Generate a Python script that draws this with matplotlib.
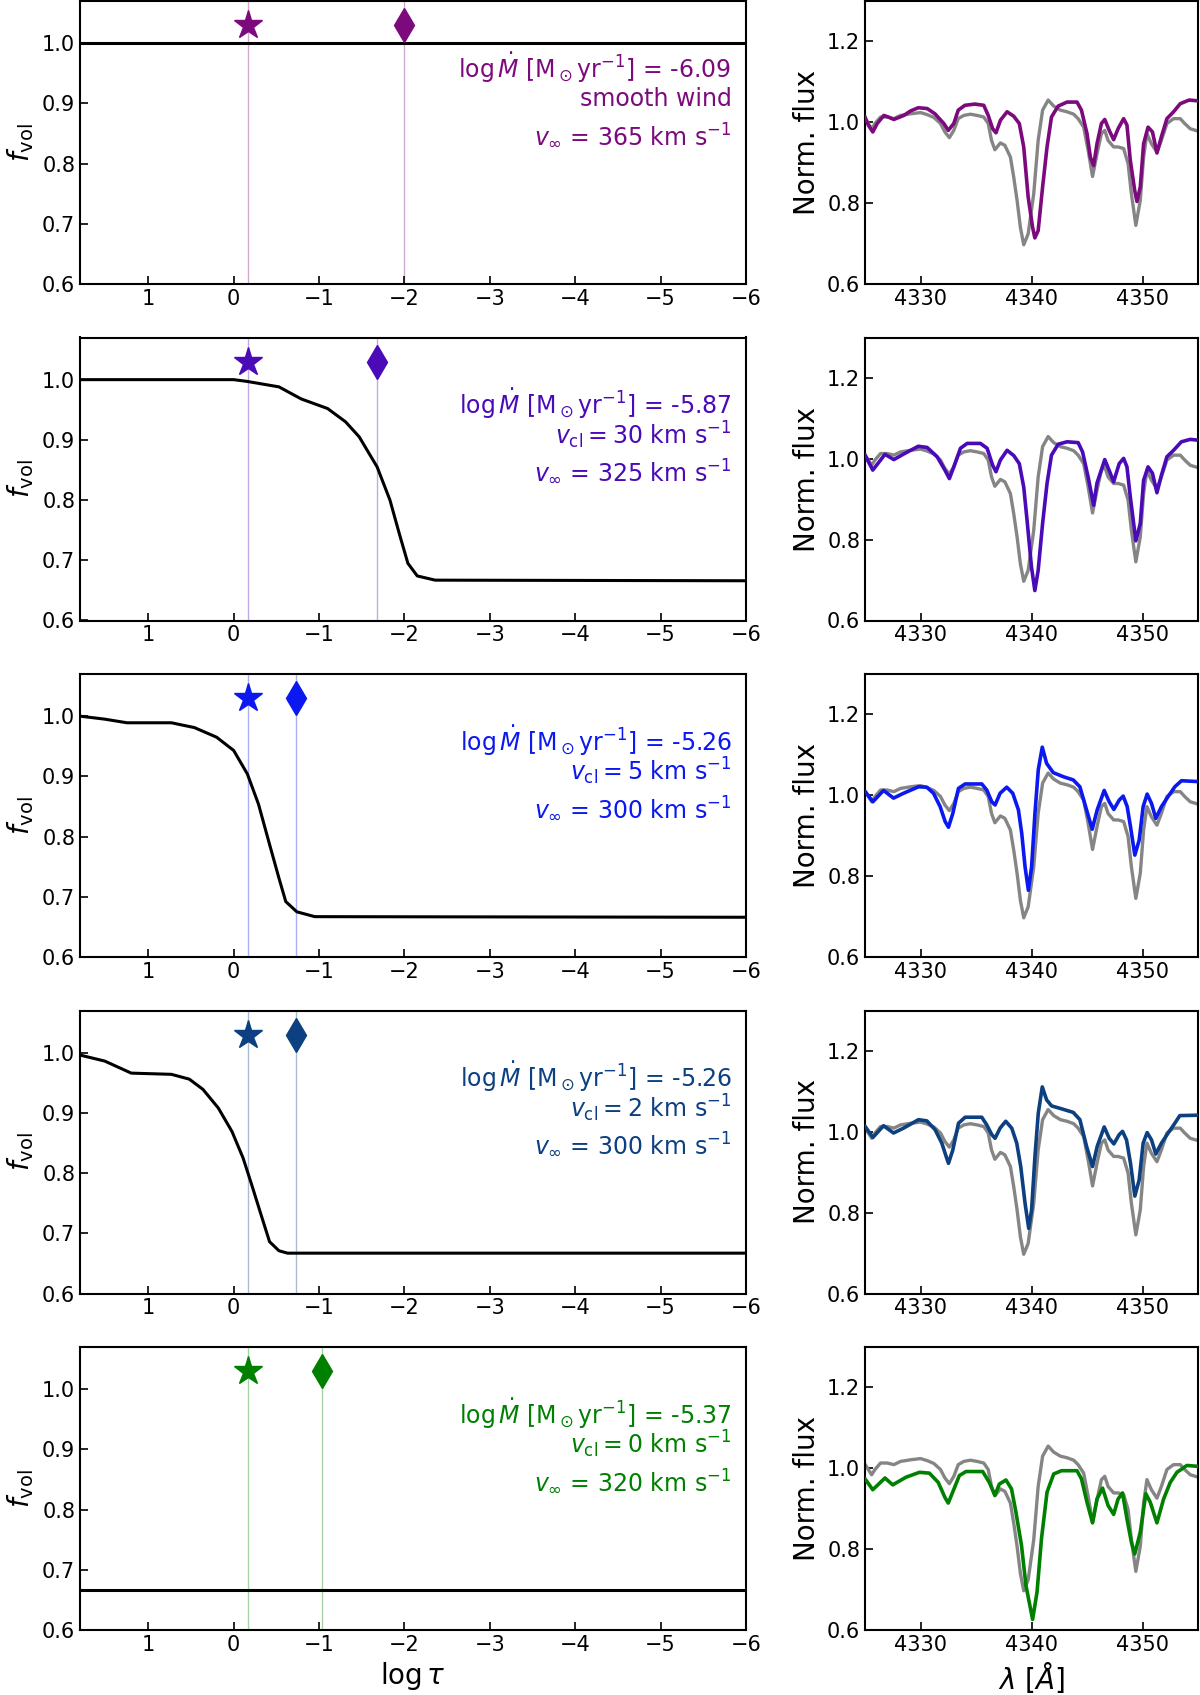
import matplotlib
matplotlib.use("Agg")
import matplotlib.pyplot as plt

# ---------------- data ----------------
colors = ['#7d0a7d', '#4a0ab8', '#0b18f0', '#0c4080', '#008000']

mdot_labels = ['-6.09', '-5.87', '-5.26', '-5.26', '-5.37']
vcl_labels = [None, '30', '5', '2', '0']
vinf_labels = ['365', '325', '300', '300', '320']

star_tau = [-0.17, -0.17, -0.17, -0.17, -0.17]
diamond_tau = [-2.0, -1.68, -0.73, -0.73, -1.03]
marker_y = 1.03

tau1 = [1.8, -6.0]
fvol1 = [1.0, 1.0]
tau2 = [1.8, 0.0, -0.16, -0.53, -0.79, -1.10, -1.31, -1.47, -1.68, -1.83, -1.94, -2.04, -2.15, -2.36, -6.0]
fvol2 = [1.0, 1.0, 0.997, 0.988, 0.968, 0.952, 0.93, 0.905, 0.855, 0.80, 0.744, 0.695, 0.674, 0.667, 0.666]
tau3 = [1.8, 1.51, 1.25, 0.73, 0.46, 0.20, 0.0, -0.16, -0.29, -0.42, -0.53, -0.61, -0.74, -0.95, -6.0]
fvol3 = [1.0, 0.995, 0.989, 0.989, 0.981, 0.965, 0.943, 0.904, 0.854, 0.787, 0.731, 0.692, 0.675, 0.667, 0.666]
tau4 = [1.8, 1.51, 1.20, 0.73, 0.52, 0.36, 0.18, 0.02, -0.11, -0.21, -0.32, -0.42, -0.53, -0.63, -6.0]
fvol4 = [0.996, 0.986, 0.966, 0.964, 0.956, 0.939, 0.908, 0.869, 0.825, 0.781, 0.731, 0.686, 0.671, 0.667, 0.667]
tau5 = [1.8, -6.0]
fvol5 = [0.667, 0.667]

obs_wave = [4325.0, 4325.3, 4325.6, 4325.9, 4326.4, 4327.0, 4327.6, 4328.2, 4329.1, 4330.0,
            4330.6, 4331.2, 4331.8, 4332.2, 4332.6, 4333.0, 4333.4, 4333.9, 4334.5, 4335.1,
            4335.7, 4336.1, 4336.4, 4336.7, 4337.2, 4337.6, 4338.1, 4338.4, 4338.7, 4339.0,
            4339.3, 4339.7, 4340.2, 4340.6, 4341.0, 4341.5, 4342.0, 4342.6, 4343.2, 4343.8,
            4344.2, 4344.7, 4345.1, 4345.5, 4345.9, 4346.3, 4346.6, 4346.9, 4347.4, 4347.8,
            4348.3, 4348.7, 4349.0, 4349.4, 4349.8, 4350.1, 4350.4, 4350.8, 4351.3, 4351.7,
            4352.2, 4352.8, 4353.4, 4353.8, 4354.3, 4354.9]
obs_flux = [1.010, 0.997, 0.984, 0.997, 1.013, 1.013, 1.009, 1.017, 1.021, 1.024,
            1.019, 1.012, 0.997, 0.976, 0.962, 0.980, 1.009, 1.017, 1.020, 1.017,
            1.013, 0.997, 0.955, 0.932, 0.949, 0.943, 0.914, 0.864, 0.807, 0.740,
            0.697, 0.724, 0.823, 0.955, 1.030, 1.055, 1.040, 1.030, 1.026, 1.020,
            1.009, 0.988, 0.931, 0.866, 0.922, 0.972, 0.980, 0.955, 0.939, 0.939,
            0.935, 0.898, 0.823, 0.745, 0.807, 0.914, 0.972, 0.947, 0.926, 0.955,
            0.997, 1.009, 1.009, 0.997, 0.984, 0.979]

m1_wave = [4325.0, 4325.3, 4325.7, 4326.1, 4326.7, 4327.1, 4327.6, 4328.5, 4329.1, 4329.8,
           4330.6, 4331.3, 4332.1, 4332.5, 4333.0, 4333.4, 4334.0, 4334.9, 4335.7, 4336.1,
           4336.5, 4336.8, 4337.2, 4337.8, 4338.4, 4338.9, 4339.3, 4339.7, 4340.1, 4340.3,
           4340.6, 4341.0, 4341.4, 4341.8, 4342.4, 4343.2, 4344.1, 4344.5, 4345.0, 4345.3,
           4345.6, 4345.9, 4346.3, 4346.6, 4347.0, 4347.4, 4347.8, 4348.3, 4348.6, 4348.9,
           4349.3, 4349.5, 4349.8, 4350.1, 4350.5, 4350.9, 4351.3, 4351.7, 4352.2, 4352.8,
           4353.4, 4354.2, 4355.0]
m1_flux = [1.013, 0.993, 0.976, 0.997, 1.017, 1.013, 1.007, 1.017, 1.028, 1.036,
           1.034, 1.021, 0.997, 0.980, 0.997, 1.030, 1.042, 1.045, 1.042, 1.017,
           0.984, 0.974, 1.005, 1.026, 1.015, 0.997, 0.939, 0.815, 0.740, 0.714,
           0.732, 0.840, 0.939, 1.013, 1.040, 1.050, 1.050, 1.030, 0.972, 0.914,
           0.893, 0.947, 0.997, 1.007, 0.980, 0.957, 0.984, 1.009, 0.993, 0.906,
           0.831, 0.804, 0.840, 0.947, 0.988, 0.976, 0.924, 0.964, 1.009, 1.026,
           1.046, 1.055, 1.053]

m2_wave = [4325.0, 4325.7, 4326.8, 4327.6, 4328.5, 4329.8, 4330.6, 4331.5, 4332.2, 4332.6,
           4333.0, 4333.6, 4334.2, 4335.4, 4336.0, 4336.5, 4336.8, 4337.2, 4337.8, 4338.4,
           4338.9, 4339.3, 4339.6, 4340.0, 4340.3, 4340.6, 4341.0, 4341.4, 4341.8, 4342.4,
           4343.2, 4344.2, 4344.6, 4345.1, 4345.6, 4345.9, 4346.6, 4347.0, 4347.4, 4347.9,
           4348.3, 4348.6, 4348.9, 4349.4, 4349.8, 4350.1, 4350.5, 4350.9, 4351.3, 4351.7,
           4352.2, 4352.8, 4353.5, 4354.3, 4355.0]
m2_flux = [1.009, 0.972, 1.011, 0.998, 1.012, 1.031, 1.028, 1.005, 0.972, 0.951,
           0.980, 1.026, 1.038, 1.038, 1.026, 0.984, 0.968, 0.997, 1.021, 1.008,
           0.988, 0.930, 0.848, 0.732, 0.674, 0.724, 0.840, 0.939, 1.009, 1.036,
           1.042, 1.040, 1.017, 0.955, 0.885, 0.940, 0.998, 0.971, 0.943, 0.988,
           1.001, 0.980, 0.906, 0.797, 0.840, 0.947, 0.980, 0.964, 0.916, 0.959,
           1.005, 1.021, 1.042, 1.048, 1.046]

m3_wave = [4325.02, 4325.71, 4326.67, 4327.57, 4328.47, 4329.82, 4330.57, 4331.17, 4331.77, 4332.22,
           4332.52, 4332.91, 4333.42, 4334.02, 4335.52, 4335.97, 4336.42, 4336.72, 4337.17, 4337.77,
           4338.31, 4338.82, 4339.12, 4339.42, 4339.72, 4340.01, 4340.31, 4340.61, 4340.97, 4341.36,
           4341.96, 4342.86, 4343.76, 4344.36, 4344.96, 4345.47, 4345.92, 4346.55, 4347.00, 4347.42,
           4347.90, 4348.26, 4348.62, 4348.92, 4349.31, 4349.70, 4350.06, 4350.42, 4350.81, 4351.20,
           4351.71, 4352.31, 4352.91, 4353.51, 4354.95]
m3_flux = [1.009, 0.984, 1.012, 0.993, 1.005, 1.021, 1.020, 1.005, 0.972, 0.935,
           0.921, 0.955, 1.017, 1.028, 1.028, 1.013, 0.984, 0.976, 1.005, 1.020,
           1.005, 0.964, 0.906, 0.823, 0.765, 0.823, 0.955, 1.063, 1.119, 1.079,
           1.056, 1.046, 1.038, 1.021, 0.964, 0.916, 0.964, 1.012, 0.984, 0.965,
           0.988, 0.998, 0.972, 0.922, 0.852, 0.889, 0.972, 1.003, 0.980, 0.943,
           0.972, 0.997, 1.021, 1.036, 1.034]

m4_wave = [4325.02, 4325.71, 4326.67, 4327.57, 4328.47, 4329.82, 4330.57, 4331.32, 4331.92, 4332.31,
           4332.52, 4332.91, 4333.42, 4334.02, 4335.52, 4335.97, 4336.42, 4336.72, 4337.17, 4337.68,
           4338.22, 4338.67, 4339.03, 4339.42, 4339.75, 4340.01, 4340.31, 4340.61, 4340.97, 4341.36,
           4341.81, 4342.56, 4343.76, 4344.36, 4344.96, 4345.50, 4345.92, 4346.55, 4347.00, 4347.42,
           4347.90, 4348.20, 4348.56, 4348.92, 4349.31, 4349.70, 4350.06, 4350.42, 4350.81, 4351.20,
           4351.71, 4352.31, 4352.91, 4353.36, 4354.95]
m4_flux = [1.013, 0.986, 1.015, 0.997, 1.009, 1.030, 1.027, 1.005, 0.972, 0.939,
           0.922, 0.955, 1.021, 1.036, 1.036, 1.017, 0.993, 0.984, 1.009, 1.026,
           1.009, 0.972, 0.914, 0.823, 0.761, 0.807, 0.939, 1.046, 1.111, 1.079,
           1.064, 1.058, 1.048, 1.030, 0.964, 0.914, 0.964, 1.012, 0.984, 0.970,
           0.993, 1.001, 0.980, 0.922, 0.841, 0.881, 0.972, 0.998, 0.980, 0.945,
           0.972, 0.997, 1.021, 1.040, 1.041]

m5_wave = [4325.0, 4325.7, 4326.8, 4327.5, 4328.7, 4329.9, 4330.8, 4331.6, 4332.2, 4332.5,
           4332.9, 4333.5, 4334.1, 4335.6, 4336.2, 4336.7, 4337.1, 4337.7, 4338.2, 4338.6,
           4339.1, 4339.5, 4340.1, 4340.5, 4340.9, 4341.4, 4342.0, 4342.7, 4344.1, 4344.5,
           4345.0, 4345.5, 4345.9, 4346.4, 4346.9, 4347.4, 4347.8, 4348.2, 4348.6, 4349.0,
           4349.3, 4349.8, 4350.3, 4350.7, 4351.3, 4351.9, 4352.5, 4353.1, 4354.0, 4354.9]
m5_flux = [0.974, 0.947, 0.976, 0.959, 0.978, 0.990, 0.988, 0.965, 0.928, 0.914,
           0.941, 0.982, 0.992, 0.992, 0.965, 0.933, 0.961, 0.971, 0.949, 0.891,
           0.809, 0.710, 0.626, 0.694, 0.826, 0.941, 0.986, 0.994, 0.994, 0.974,
           0.916, 0.865, 0.924, 0.951, 0.908, 0.886, 0.924, 0.939, 0.875, 0.817,
           0.788, 0.842, 0.937, 0.916, 0.865, 0.924, 0.965, 0.990, 1.007, 1.005]

taus = [tau1, tau2, tau3, tau4, tau5]
fvols = [fvol1, fvol2, fvol3, fvol4, fvol5]
mod_waves = [m1_wave, m2_wave, m3_wave, m4_wave, m5_wave]
mod_fluxes = [m1_flux, m2_flux, m3_flux, m4_flux, m5_flux]

# ---------------- figure ----------------
W, H = 1200, 1695
fig = plt.figure(figsize=(W / 100, H / 100), dpi=100)

panel_h = 283
row_step = 336.5
tick_fs = 15
lab_fs = 20
txt_fs = 17

for i in range(5):
    top = 1 + i * row_step
    bottom = 1 - (top + panel_h) / H
    hfrac = panel_h / H
    axL = fig.add_axes([80 / W, bottom, (746 - 80) / W, hfrac])
    axR = fig.add_axes([865 / W, bottom, (1198 - 865) / W, hfrac])
    c = colors[i]

    # left panel
    axL.plot(taus[i], fvols[i], color='black', lw=2.2, zorder=3)
    axL.axvline(star_tau[i], color=c, lw=1.0, alpha=0.35, zorder=1)
    axL.axvline(diamond_tau[i], color=c, lw=1.0, alpha=0.35, zorder=1)
    axL.plot([star_tau[i]], [marker_y], marker='*', ms=21, color=c, ls='none', zorder=4)
    axL.plot([diamond_tau[i]], [marker_y], marker='d', ms=17, color=c, ls='none', zorder=4)
    axL.set_xlim(1.8, -6)
    axL.set_ylim(0.6, 1.07)
    axL.set_xticks([1, 0, -1, -2, -3, -4, -5, -6])
    axL.set_xticklabels(['1', '0', '\u22121', '\u22122', '\u22123', '\u22124', '\u22125', '\u22126'])
    axL.set_yticks([0.6, 0.7, 0.8, 0.9, 1.0])
    axL.tick_params(direction='in', labelsize=tick_fs, length=6, width=1.2)
    axL.set_ylabel(r'$f_{\rm vol}$', fontsize=lab_fs)
    for sp in axL.spines.values():
        sp.set_linewidth(1.5)

    lines = [r'$\log\dot{M}$ [M$_\odot$yr$^{-1}$] = ' + mdot_labels[i]]
    if vcl_labels[i] is None:
        lines.append('smooth wind')
    else:
        lines.append(r'$v_{\rm cl} = %s$ km s$^{-1}$' % vcl_labels[i])
    lines.append(r'$v_\infty$ = %s km s$^{-1}$' % vinf_labels[i])
    for txt, yy in zip(lines, [0.96, 0.908, 0.847]):
        axL.text(-5.83, yy, txt, ha='right', va='center', color=c, fontsize=txt_fs)

    # right panel
    axR.plot(obs_wave, obs_flux, color='#858585', lw=2.4, zorder=2)
    axR.plot(mod_waves[i], mod_fluxes[i], color=c, lw=2.6, zorder=3)
    axR.set_xlim(4325, 4355)
    axR.set_ylim(0.6, 1.3)
    axR.set_xticks([4330, 4340, 4350])
    axR.set_yticks([0.6, 0.8, 1.0, 1.2])
    axR.tick_params(direction='in', labelsize=tick_fs, length=6, width=1.2)
    axR.set_ylabel('Norm. flux', fontsize=lab_fs)
    for sp in axR.spines.values():
        sp.set_linewidth(1.5)

    if i == 4:
        axL.set_xlabel(r'$\log\tau$', fontsize=lab_fs)
        axR.set_xlabel(r'$\lambda\ [\AA]$', fontsize=lab_fs)

fig.savefig('out.png', dpi=100)
